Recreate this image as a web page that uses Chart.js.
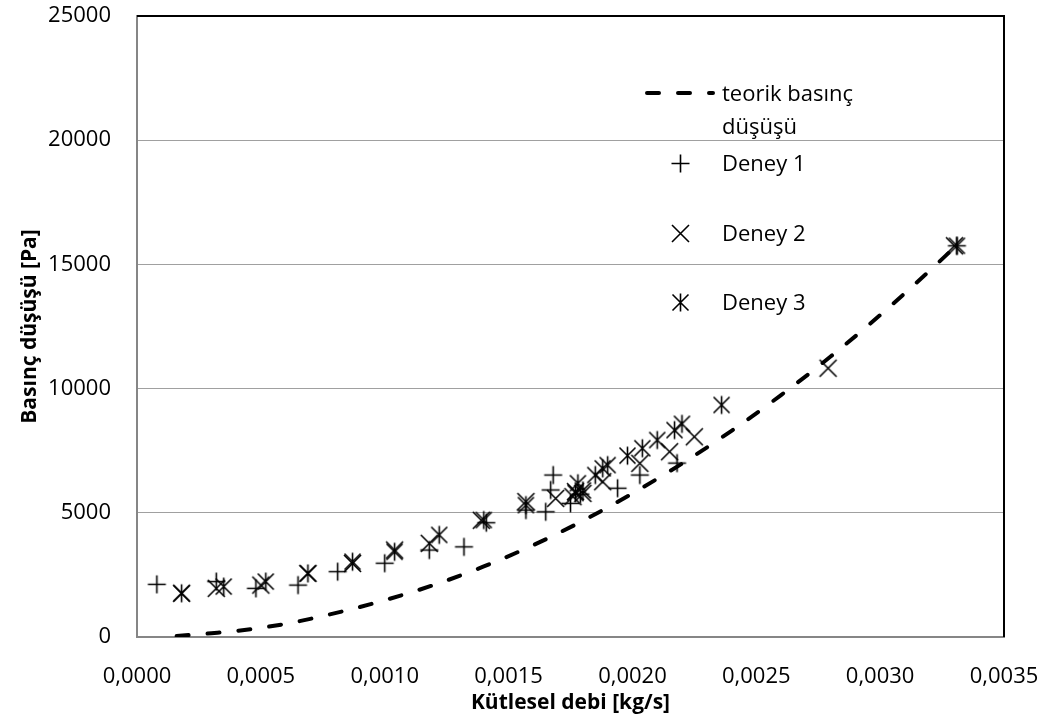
<!DOCTYPE html>
<html>
<head>
<meta charset="utf-8">
<script src="https://cdn.jsdelivr.net/npm/chart.js@4"></script>
<style>
  html, body { margin: 0; padding: 0; background: #fff; }
  #wrap { position: relative; width: 1046px; height: 725px; }
  #legend { position: absolute; left: 0; top: 0; font-family: 'Open Sans', sans-serif; font-size: 22px; color: #000; }
  .lg-text { position: absolute; white-space: nowrap; line-height: 33px; }
  .lg-mark { position: absolute; }
</style>
</head>
<body>
<div id="wrap">
  <canvas id="chart" width="1046" height="725"></canvas>
  <div id="legend"></div>
</div>
<script>
// theoretical pressure drop (dashed curve)
const theoryX = [0.00016, 0.0003, 0.0004, 0.0006, 0.0008, 0.0010, 0.0012, 0.0014, 0.0016, 0.0018, 0.0020, 0.0022, 0.0024, 0.0026, 0.0028, 0.0030, 0.0032, 0.00331];
const theoryY = [40, 150, 240, 530, 960, 1480, 2100, 2840, 3700, 4680, 5780, 6980, 8300, 9740, 11290, 12960, 14750, 15780];

// Deney 1 (+)
const d1X = [0.00008, 0.00032, 0.00048, 0.00065, 0.00081, 0.00100, 0.00118, 0.00132, 0.00141, 0.00157, 0.00165, 0.00167, 0.00168, 0.00175, 0.00179, 0.00194, 0.00203, 0.00218, 0.00331];
const d1Y = [2120, 2230, 1960, 2090, 2630, 2970, 3500, 3630, 4600, 5110, 5040, 5920, 6520, 5380, 5750, 5990, 6520, 7000, 15750];

// Deney 2 (x)
const d2X = [0.00018, 0.00032, 0.00050, 0.00069, 0.00087, 0.00104, 0.00118, 0.00139, 0.00157, 0.00169, 0.00176, 0.00177, 0.00180, 0.00188, 0.00203, 0.00215, 0.00225, 0.00279, 0.00330];
const d2Y = [1760, 1960, 2090, 2560, 2960, 3500, 3770, 4700, 5450, 5580, 5650, 5850, 5780, 6250, 6990, 7460, 8060, 10820, 15750];

// Deney 3 (asterisk)
const d3X = [0.00018, 0.00035, 0.00052, 0.00069, 0.00087, 0.00104, 0.00122, 0.00140, 0.00157, 0.00177, 0.00178, 0.00180, 0.00185, 0.00188, 0.00190, 0.00198, 0.00204, 0.00210, 0.00217, 0.00220, 0.00236, 0.00331];
const d3Y = [1760, 2030, 2230, 2560, 3030, 3430, 4110, 4710, 5310, 5800, 6190, 5900, 6520, 6790, 6920, 7300, 7600, 7930, 8330, 8580, 9340, 15750];

const xTickLabels = ['0,0000', '0,0005', '0,0010', '0,0015', '0,0020', '0,0025', '0,0030', '0,0035'];
const yTickLabels = ['0', '5000', '10000', '15000', '20000', '25000'];

const seriesNames = ['teorik basınç düşüşü', 'Deney 1', 'Deney 2', 'Deney 3'];

function pts(xs, ys) {
  return xs.map((x, i) => ({ x: x, y: ys[i] }));
}

// marker glyphs like the excel ones
function makeMarker(kind) {
  const size = 21;
  const c = document.createElement('canvas');
  c.width = size; c.height = size;
  const g = c.getContext('2d');
  const m = size / 2;
  g.strokeStyle = '#000';
  g.lineWidth = 1.6;
  g.beginPath();
  if (kind === 'plus') {
    g.moveTo(m, m - 9); g.lineTo(m, m + 9);
    g.moveTo(m - 9, m); g.lineTo(m + 9, m);
  }
  if (kind === 'x' || kind === 'star') {
    const r = kind === 'x' ? 8.5 : 8;
    g.moveTo(m - r, m - r); g.lineTo(m + r, m + r);
    g.moveTo(m - r, m + r); g.lineTo(m + r, m - r);
  }
  if (kind === 'star') {
    g.moveTo(m, m - 9); g.lineTo(m, m + 9);
  }
  g.stroke();
  return c;
}

const framePlugin = {
  id: 'frame',
  beforeDatasetsDraw(chart) {
    const { ctx, chartArea: a } = chart;
    ctx.save();
    ctx.strokeStyle = '#000';
    ctx.lineWidth = 2;
    ctx.beginPath();
    ctx.moveTo(a.left, a.top);
    ctx.lineTo(a.right, a.top);
    ctx.lineTo(a.right, a.bottom);
    ctx.stroke();
    ctx.restore();
  }
};

const tickFont = { family: 'Open Sans', size: 22 };
const titleFont = { family: 'Open Sans', size: 21, weight: 'bold' };

const chart = new Chart(document.getElementById('chart'), {
  type: 'scatter',
  data: {
    datasets: [
      {
        label: seriesNames[0],
        data: pts(theoryX, theoryY),
        showLine: true,
        borderColor: '#000',
        borderWidth: 4,
        borderDash: [12, 19],
        borderCapStyle: 'round',
        cubicInterpolationMode: 'monotone',
        pointRadius: 0,
        order: 3
      },
      {
        label: seriesNames[1],
        data: pts(d1X, d1Y),
        pointStyle: makeMarker('plus'),
        order: 2
      },
      {
        label: seriesNames[2],
        data: pts(d2X, d2Y),
        pointStyle: makeMarker('x'),
        order: 1
      },
      {
        label: seriesNames[3],
        data: pts(d3X, d3Y),
        pointStyle: makeMarker('star'),
        order: 0
      }
    ]
  },
  options: {
    responsive: false,
    animation: false,
    layout: { padding: { top: 16, right: 42, bottom: 0, left: 0 } },
    plugins: {
      legend: { display: false },
      tooltip: { enabled: false }
    },
    scales: {
      x: {
        type: 'linear',
        min: 0,
        max: 0.0035,
        afterFit: s => { s.height = 88; s.paddingLeft = 0; s.paddingRight = 0; },
        ticks: {
          stepSize: 0.0005,
          color: '#000',
          font: tickFont,
          padding: 27,
          maxRotation: 0,
          callback: (v, i) => xTickLabels[i]
        },
        grid: { display: false, drawTicks: false },
        border: { display: true, color: '#868686', width: 2 },
        title: {
          display: true,
          text: 'Kütlesel debi [kg/s]',
          color: '#000',
          font: titleFont,
          padding: { top: 0, bottom: 9 }
        }
      },
      y: {
        type: 'linear',
        min: 0,
        max: 25000,
        afterFit: s => { s.width = 137; s.paddingTop = 0; s.paddingBottom = 0; },
        ticks: {
          stepSize: 5000,
          color: '#000',
          font: tickFont,
          padding: 26,
          callback: (v, i) => yTickLabels[i]
        },
        grid: { color: '#a0a0a0', lineWidth: 1, drawTicks: false },
        border: { display: true, color: '#868686', width: 2 },
        title: {
          display: true,
          text: 'Basınç düşüşü [Pa]',
          color: '#000',
          font: titleFont,
          padding: { top: 17, bottom: 0 }
        }
      }
    }
  },
  plugins: [framePlugin]
});

// legend drawn as html on top of the plot, placed like the excel one
const legend = document.getElementById('legend');

const dash = document.createElement('canvas');
dash.width = 80; dash.height = 16;
dash.className = 'lg-mark';
dash.style.left = '640px'; dash.style.top = '85px';
const dg = dash.getContext('2d');
dg.strokeStyle = '#000'; dg.lineWidth = 4; dg.lineCap = 'round';
dg.setLineDash([12, 19]);
dg.beginPath(); dg.moveTo(7, 8); dg.lineTo(73, 8); dg.stroke();
legend.appendChild(dash);

function addText(txt, left, top) {
  const d = document.createElement('div');
  d.className = 'lg-text';
  d.style.left = left + 'px';
  d.style.top = top + 'px';
  d.innerHTML = txt;
  legend.appendChild(d);
}
function addMark(kind, cx, cy) {
  const c = makeMarker(kind);
  c.className = 'lg-mark';
  c.style.left = (cx - c.width / 2) + 'px';
  c.style.top = (cy - c.height / 2) + 'px';
  legend.appendChild(c);
}

addText('teorik basınç<br>düşüşü', 722, 76);
addMark('plus', 680, 163);
addText(seriesNames[1], 722, 146);
addMark('x', 680, 233);
addText(seriesNames[2], 722, 216);
addMark('star', 680, 302);
addText(seriesNames[3], 722, 285);
</script>
</body>
</html>
